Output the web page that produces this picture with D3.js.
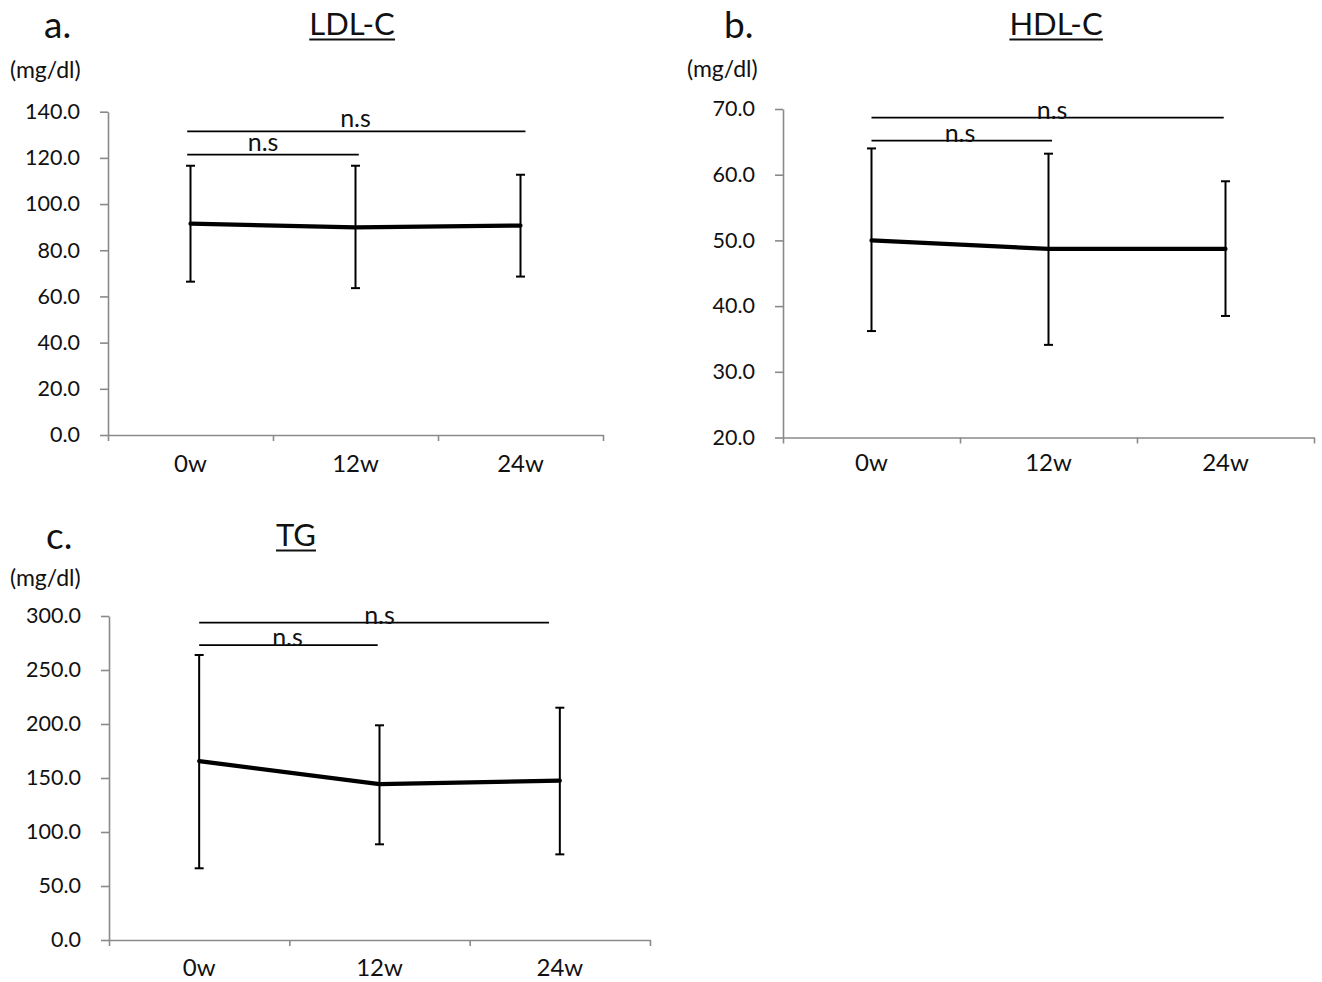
<!DOCTYPE html>
<html>
<head>
<meta charset="utf-8">
<script src="https://cdn.jsdelivr.net/npm/d3@7"></script>
<style>
  html, body { margin: 0; padding: 0; background: #fff; }
  svg { display: block; }
  text { font-family: Lato, "Open Sans", "Noto Sans", sans-serif; fill: #111; }
</style>
</head>
<body>
<svg id="chart" width="1322" height="982"></svg>
<script>
// ---------------- DATA ----------------
const categories = ["0w", "12w", "24w"];

// LDL-C (mg/dl)
const ldlMean  = [91.5, 89.9, 90.7];
const ldlUpper = [116.6, 116.6, 112.7];
const ldlLower = [66.4, 63.6, 68.6];
const ldlTicks = [0, 20, 40, 60, 80, 100, 120, 140];

// HDL-C (mg/dl)
const hdlMean  = [50.0, 48.7, 48.7];
const hdlUpper = [64.0, 63.2, 59.0];
const hdlLower = [36.2, 34.1, 38.5];
const hdlTicks = [20, 30, 40, 50, 60, 70];

// TG (mg/dl)
const tgMean  = [165.7, 144.4, 147.5];
const tgUpper = [263.9, 198.8, 215.1];
const tgLower = [66.4, 88.6, 79.3];
const tgTicks = [0, 50, 100, 150, 200, 250, 300];

// significance brackets: [from index, to index, y value, label position index, label]
const ldlBrackets = [[-0.02, 2.03, 131.5, 1.0, "n.s"], [-0.02, 1.02, 121.4, 0.44, "n.s"]];
const hdlBrackets = [[0.0, 1.99, 68.7, 1.02, "n.s"], [0.0, 1.02, 65.2, 0.5, "n.s"]];
const tgBrackets  = [[0.0, 1.94, 293.8, 1.0, "n.s"], [0.0, 0.99, 273.1, 0.49, "n.s"]];

const unitLabel = "(mg/dl)";

// ---------------- LAYOUT ----------------
const panels = [
  { letter: "a.", title: "LDL-C", mean: ldlMean, upper: ldlUpper, lower: ldlLower, ticks: ldlTicks, brackets: ldlBrackets,
    domain: [0, 140], left: 108, right: 603, top: 111.7, bottom: 435,
    letterPos: [44, 38], titlePos: [352, 35], unitPos: [10, 78], xLabPad: 20, nsDy: -4 },
  { letter: "b.", title: "HDL-C", mean: hdlMean, upper: hdlUpper, lower: hdlLower, ticks: hdlTicks, brackets: hdlBrackets,
    domain: [20, 70], left: 783, right: 1314, top: 109, bottom: 437.5,
    letterPos: [724, 38], titlePos: [1056, 35], unitPos: [687, 77], xLabPad: 16, nsDy: 1 },
  { letter: "c.", title: "TG", mean: tgMean, upper: tgUpper, lower: tgLower, ticks: tgTicks, brackets: tgBrackets,
    domain: [0, 300], left: 109, right: 650, top: 616, bottom: 940,
    letterPos: [46, 549], titlePos: [296, 546], unitPos: [10, 586], xLabPad: 19, nsDy: 1 }
];

const svg = d3.select("#chart");
const axisColor = "#8a8a8a";

panels.forEach(p => {
  const g = svg.append("g");
  const y = d3.scaleLinear().domain(p.domain).range([p.bottom, p.top]);
  const xBand = d3.scaleBand().domain(categories).range([p.left, p.right]).padding(0);
  const xIdx = d3.scaleLinear().domain([-0.5, categories.length - 0.5]).range([p.left, p.right]);
  const cx = i => xBand(categories[i]) + xBand.bandwidth() / 2;

  // Y axis
  const yAxis = g.append("g").attr("transform", `translate(${p.left},0)`)
    .call(d3.axisLeft(y).tickValues(p.ticks).tickFormat(d3.format(".1f")).tickSize(8).tickSizeOuter(0).tickPadding(20));
  yAxis.selectAll("path, line").attr("stroke", axisColor).attr("stroke-width", 1.6);
  yAxis.selectAll("text").attr("font-size", 21.5).attr("fill", "#111").style("font-family", "Lato");

  // X axis: boundary ticks
  const xTicks = g.append("g").attr("transform", `translate(0,${p.bottom})`)
    .call(d3.axisBottom(xIdx).tickValues(d3.range(-0.5, categories.length, 1)).tickFormat("").tickSize(6).tickSizeOuter(0));
  xTicks.selectAll("path, line").attr("stroke", axisColor).attr("stroke-width", 1.6);

  // X axis: category labels
  const xLabs = g.append("g").attr("transform", `translate(0,${p.bottom})`)
    .call(d3.axisBottom(xBand).tickSize(0).tickPadding(p.xLabPad));
  xLabs.select(".domain").remove();
  xLabs.selectAll("text").attr("font-size", 24).attr("fill", "#111").style("font-family", "Lato");

  // error bars
  const capW = 4.5;
  const eb = g.append("g").attr("stroke", "#000").attr("stroke-width", 2).attr("fill", "none");
  categories.forEach((c, i) => {
    const x = cx(i);
    eb.append("line").attr("x1", x).attr("x2", x).attr("y1", y(p.lower[i])).attr("y2", y(p.upper[i]));
    eb.append("line").attr("x1", x - capW).attr("x2", x + capW).attr("y1", y(p.upper[i])).attr("y2", y(p.upper[i]));
    eb.append("line").attr("x1", x - capW).attr("x2", x + capW).attr("y1", y(p.lower[i])).attr("y2", y(p.lower[i]));
  });

  // mean line
  const line = d3.line().x((d, i) => cx(i)).y(d => y(d));
  g.append("path").datum(p.mean).attr("d", line)
    .attr("fill", "none").attr("stroke", "#000").attr("stroke-width", 4.2)
    .attr("stroke-linejoin", "round").attr("stroke-linecap", "round");

  // significance brackets
  p.brackets.forEach(b => {
    g.append("line").attr("x1", xIdx(b[0])).attr("x2", xIdx(b[1]))
      .attr("y1", y(b[2])).attr("y2", y(b[2]))
      .attr("stroke", "#000").attr("stroke-width", 1.8);
    g.append("text").attr("x", xIdx(b[3])).attr("y", y(b[2]) + p.nsDy)
      .attr("text-anchor", "middle").attr("font-size", 25).text(b[4]);
  });

  // panel letter
  g.append("text").attr("x", p.letterPos[0]).attr("y", p.letterPos[1])
    .attr("font-size", 37).text(p.letter);

  // title (underlined)
  const t = g.append("text").attr("x", p.titlePos[0]).attr("y", p.titlePos[1])
    .attr("text-anchor", "middle").attr("font-size", 31).text(p.title);
  const bb = t.node().getBBox();
  g.append("line").attr("x1", bb.x).attr("x2", bb.x + bb.width)
    .attr("y1", p.titlePos[1] + 4.5).attr("y2", p.titlePos[1] + 4.5)
    .attr("stroke", "#111").attr("stroke-width", 1.8);

  // unit label
  g.append("text").attr("x", p.unitPos[0]).attr("y", p.unitPos[1])
    .attr("font-size", 23).text(unitLabel);
});
</script>
</body>
</html>
